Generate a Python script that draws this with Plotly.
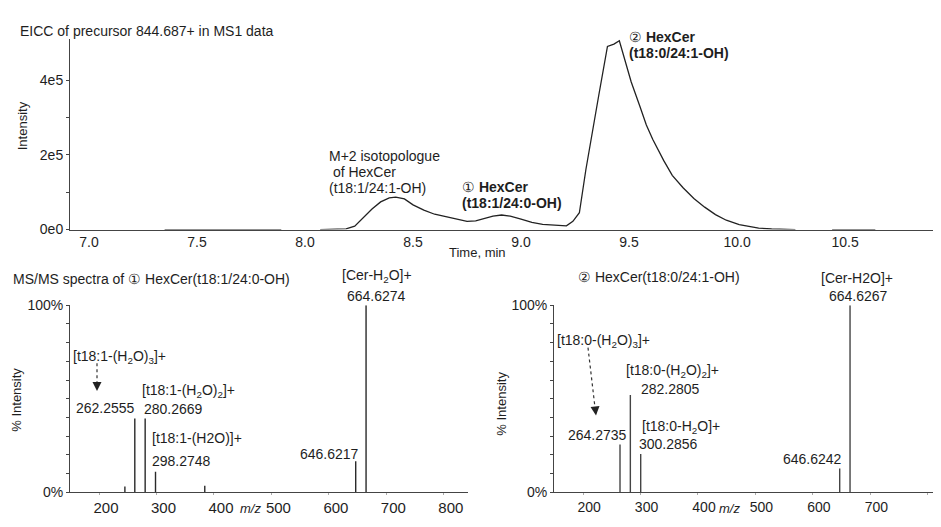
import plotly.graph_objects as go

# The page keeps the browser's default 8px body margin and the photo of the
# page is squeezed vertically by 527/535, so reference pixel positions are
# converted to figure coordinates with those two corrections.
WIN_W, WIN_H = 941, 527
VIEW_H = 535
OFF = 8
W, H = WIN_W - 2 * OFF, 515
FONT = "Liberation Sans, Arial, sans-serif"
TXT = "#1e1e1e"
AX = "#444444"

# ---------------- data ----------------
# EICC of precursor 844.687+ (time in min, intensity counts); None = gap in trace
eicc_time = [7.35, 7.89, None,
             8.07, 8.15, 8.19, 8.23, 8.27, 8.31, 8.35, 8.39, 8.42, 8.46, 8.50, 8.55,
             8.60, 8.65, 8.70, 8.75, 8.79, 8.83, 8.87, 8.91, 8.95, 9.00, 9.05, 9.10,
             9.15, 9.21, 9.24, 9.27, 9.30, 9.33, 9.36, 9.40, 9.43, 9.455, 9.48, 9.51,
             9.55, 9.58, 9.61, 9.66, 9.70, 9.75, 9.80, 9.85, 9.90, 9.95, 10.01, 10.06,
             10.10, 10.16, 10.27, None,
             10.44, 10.64]
eicc_intensity = [0, 0, None,
                  0, 400, 2000, 9000, 31000, 55000, 74000, 85000, 87000, 82000, 66000, 52000,
                  41000, 34000, 27000, 22000, 23000, 29000, 36000, 39000, 36000, 28000, 19000, 14000,
                  11500, 10000, 22000, 45000, 160000, 265000, 360000, 490000, 496000, 505000, 455000, 395000,
                  330000, 280000, 241000, 185000, 145000, 112000, 83000, 60000, 40000, 25000, 13000, 7000,
                  4000, 1500, 0, None,
                  0, 0]

# MS/MS spectrum of (1) HexCer(t18:1/24:0-OH)
ms1_mz = [245.0, 262.2555, 280.2669, 298.2748, 384.0, 646.6217, 664.6274]
ms1_int = [3.0, 39.5, 39.5, 11.0, 3.5, 16.5, 100.0]

# MS/MS spectrum of (2) HexCer(t18:0/24:1-OH)
ms2_mz = [264.2735, 282.2805, 300.2856, 646.6242, 664.6267]
ms2_int = [25.5, 52.0, 20.5, 12.7, 100.0]

# tick labels
top_xtick_vals = [7.0, 7.5, 8.0, 8.5, 9.0, 9.5, 10.0, 10.5]
top_xtick_text = ["7.0", "7.5", "8.0", "8.5", "9.0", "9.5", "10.0", "10.5"]
top_ytick_vals = [0, 1e5, 2e5, 3e5, 4e5]
top_ytick_text = ["0e0", " ", "2e5", " ", "4e5"]
ms_xtick_vals = [200, 300, 400, 500, 600, 700, 800]
ms_xtick_text = ["200", "300", "400", "500", "600", "700", "800"]
ms_ytick_vals = [0, 10, 20, 30, 40, 50, 60, 70, 80, 90, 100]
ms_ytick_text = ["0%", " ", " ", " ", " ", " ", " ", " ", " ", " ", "100%"]


def sticks(mz, inten):
    xs, ys = [], []
    for m, i in zip(mz, inten):
        xs += [m, m, None]
        ys += [0, i, None]
    return xs, ys


fig = go.Figure()

fig.add_trace(go.Scatter(x=eicc_time, y=eicc_intensity, mode="lines",
                         line=dict(color="#222222", width=1.3),
                         connectgaps=False, xaxis="x", yaxis="y", hoverinfo="skip"))

x1, y1 = sticks(ms1_mz, ms1_int)
fig.add_trace(go.Scatter(x=x1, y=y1, mode="lines", line=dict(color="#2a2a2a", width=1.4),
                         xaxis="x2", yaxis="y2", hoverinfo="skip"))
x2, y2 = sticks(ms2_mz, ms2_int)
fig.add_trace(go.Scatter(x=x2, y=y2, mode="lines", line=dict(color="#444444", width=1.4),
                         xaxis="x3", yaxis="y3", hoverinfo="skip"))


def px(x):
    return min(1.0, max(0.0, (x - OFF) / W))


def py(y):
    page_y = y * VIEW_H / WIN_H
    return min(1.0, max(0.0, 1 - (page_y - OFF) / H))


tickfont = dict(family=FONT, size=14, color=TXT)
common_axis = dict(showgrid=False, zeroline=False, showline=True, linecolor=AX,
                   linewidth=1, fixedrange=True)

fig.update_layout(
    width=W, height=H,
    margin=dict(l=0, r=0, t=0, b=0),
    paper_bgcolor="white", plot_bgcolor="white",
    showlegend=False,
    font=dict(family=FONT, size=14, color=TXT),
    xaxis=dict(domain=[px(70), px(933)], range=[6.912, 10.907], anchor="y",
               tickmode="array", tickvals=top_xtick_vals, ticktext=top_xtick_text,
               ticks="", tickfont=tickfont, **common_axis),
    yaxis=dict(domain=[py(225), py(31.2)], range=[0, 5.1e5], anchor="x",
               tickmode="array", tickvals=top_ytick_vals, ticktext=top_ytick_text,
               ticks="outside", ticklen=3, tickcolor=AX, tickfont=tickfont, **common_axis),
    xaxis2=dict(domain=[px(70), px(468)], range=[149.5, 842], anchor="y2",
                tickmode="array", tickvals=ms_xtick_vals, ticktext=ms_xtick_text,
                ticks="outside", ticklen=2, tickcolor="#aaaaaa", ticklabelshift=7,
                tickfont=dict(family=FONT, size=15, color=TXT), **common_axis),
    yaxis2=dict(domain=[py(492), py(302)], range=[0, 100], anchor="x2",
                tickmode="array", tickvals=ms_ytick_vals, ticktext=ms_ytick_text,
                ticks="outside", ticklen=3, tickcolor=AX, tickfont=tickfont, **common_axis),
    xaxis3=dict(domain=[px(554), px(933)], range=[149.4, 809], anchor="y3",
                tickmode="array", tickvals=ms_xtick_vals, ticktext=ms_xtick_text,
                ticks="outside", ticklen=2, tickcolor="#aaaaaa", ticklabelshift=6,
                tickfont=tickfont, **common_axis),
    yaxis3=dict(domain=[py(492), py(302)], range=[0, 100], anchor="x3",
                tickmode="array", tickvals=ms_ytick_vals, ticktext=ms_ytick_text,
                ticks="outside", ticklen=3, tickcolor=AX, tickfont=tickfont, **common_axis),
)


def ann(text, x, y, xanchor="left", size=14, angle=0, italic=False):
    f = dict(family=FONT, size=size, color=TXT)
    if italic:
        f["style"] = "italic"
    return dict(text=text, x=px(x), y=py(y), xref="paper", yref="paper",
                xanchor=xanchor, yanchor="middle", showarrow=False,
                font=f, textangle=angle, align="left")


annotations = [
    # top panel
    ann("EICC of precursor 844.687+ in MS1 data", 18, 23, size=14),
    ann("Intensity", 22, 120, xanchor="center", size=13, angle=-90),
    ann("Time, min", 477, 248, xanchor="center", size=13),
    ann("M+2 isotopologue", 327, 150),
    ann(" of HexCer", 327, 166),
    ann("(t18:1/24:1-OH)", 327, 183),
    ann("① <b>HexCer</b>", 460, 182),
    ann("<b>(t18:1/24:0-OH)</b>", 460, 198),
    ann("② <b>HexCer</b>", 627, 29),
    ann("<b>(t18:0/24:1-OH)</b>", 627, 46),
    # bottom-left panel
    ann("MS/MS spectra of ① HexCer(t18:1/24:0-OH)", 11, 275),
    ann("% Intensity", 17, 398, xanchor="center", size=13, angle=-90),
    ann("m/z", 250, 509, xanchor="center", size=13, italic=True),
    ann("[Cer-H<sub>2</sub>O]+", 377, 272, xanchor="center"),
    ann("664.6274", 376, 293, xanchor="center"),
    ann("[t18:1-(H<sub>2</sub>O)<sub>3</sub>]+", 71, 355),
    ann("262.2555", 74, 406),
    ann("[t18:1-(H<sub>2</sub>O)<sub>2</sub>]+", 140, 389),
    ann("280.2669", 142, 407),
    ann("[t18:1-(H2O)]+", 150, 437),
    ann("298.2748", 150, 460),
    ann("646.6217", 329, 453, xanchor="center"),
    # bottom-right panel
    ann("② HexCer(t18:0/24:1-OH)", 576, 273),
    ann("% Intensity", 502, 402, xanchor="center", size=13, angle=-90),
    ann("m/z", 729, 509, xanchor="center", size=13, italic=True),
    ann("[Cer-H2O]+", 857, 274, xanchor="center"),
    ann("664.6267", 858, 293, xanchor="center"),
    ann("[t18:0-(H<sub>2</sub>O)<sub>3</sub>]+", 555, 338),
    ann("264.2735", 566, 434),
    ann("[t18:0-(H<sub>2</sub>O)<sub>2</sub>]+", 624, 369),
    ann("282.2805", 639, 387),
    ann("[t18:0-H<sub>2</sub>O]+", 640, 426),
    ann("300.2856", 637, 443),
    ann("646.6242", 812, 458, xanchor="center"),
    # arrowheads of the dotted arrows
    dict(text="", x=px(97), y=py(389), xref="paper", yref="paper",
         ax=0, ay=-9, showarrow=True, arrowhead=2, arrowsize=1.5,
         arrowwidth=1.2, arrowcolor="#222222"),
    dict(text="", x=px(596), y=py(414), xref="paper", yref="paper",
         ax=-1, ay=-9, showarrow=True, arrowhead=2, arrowsize=1.5,
         arrowwidth=1.2, arrowcolor="#222222"),
]
fig.update_layout(annotations=annotations)

fig.update_layout(shapes=[
    dict(type="line", xref="paper", yref="paper", x0=px(97), y0=py(361),
         x1=px(97), y1=py(382), line=dict(color="#333333", width=1.2, dash="dot")),
    dict(type="line", xref="paper", yref="paper", x0=px(588), y0=py(345),
         x1=px(595), y1=py(406), line=dict(color="#333333", width=1.2, dash="dot")),
])

fig.write_html("out.html")
